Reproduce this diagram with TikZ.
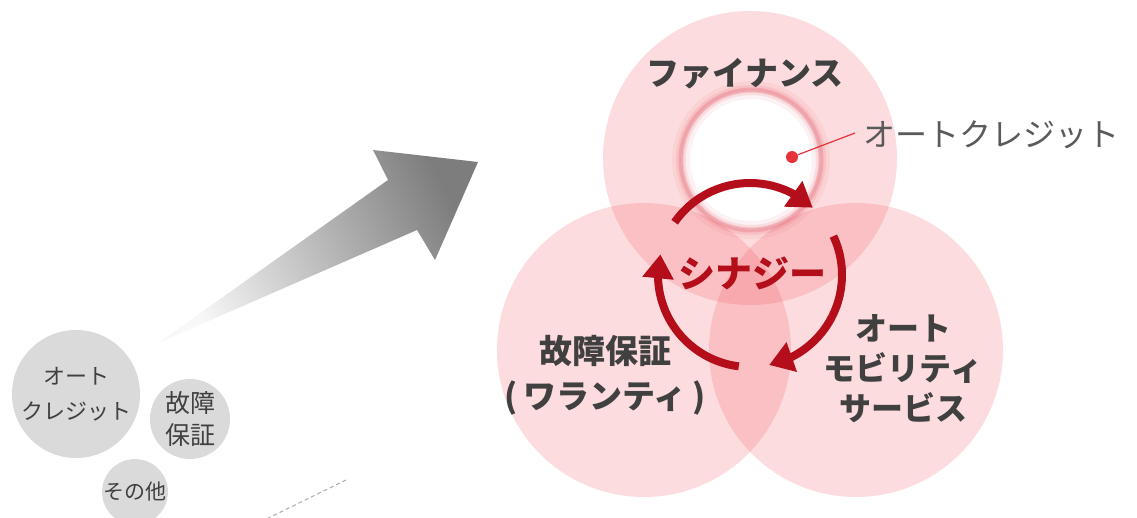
\documentclass[tikz,border=0pt]{standalone}
\usepackage{fontspec}
\newfontfamily\jp{Noto Sans CJK JP}
\usetikzlibrary{arrows.meta,bending}
\definecolor{pinkc}{RGB}{240,80,90}
\definecolor{greyc}{RGB}{218,218,218}
\definecolor{txtc}{RGB}{64,64,64}
\definecolor{lbltxt}{RGB}{90,90,90}
\definecolor{synred}{RGB}{180,14,26}
\definecolor{ringred}{RGB}{225,70,85}
\definecolor{dotred}{RGB}{230,50,60}
\definecolor{arrlight}{RGB}{248,248,248}
\definecolor{arrdark}{RGB}{125,125,125}
\begin{document}
\begin{tikzpicture}[x=1pt,y=1pt,
  venn/.style={circle, minimum size=294pt, inner sep=0pt, fill=pinkc, fill opacity=0.2},
  greyball/.style={circle, fill=greyc, inner sep=0pt, text=txtc, align=center},
  biglbl/.style={text=txtc, align=center, inner sep=0pt},
  synarrow/.style={draw=synred, line width=8pt, -{Triangle[length=24pt,width=30pt]}}
]
\useasboundingbox (0,0) rectangle (1137,-517);
\clip (0,0) rectangle (1137,-517);

% small grey circles
\node[greyball, minimum size=128pt, font=\jp\fontsize{22}{35}\selectfont] (gc1) at (76,-394) {オート\\クレジット};
\node[greyball, minimum size=80pt, font=\jp\fontsize{25}{32}\selectfont] (gc2) at (190,-419) {故障\\保証};
\node[greyball, minimum size=64pt, font=\jp\fontsize{21}{25}\selectfont] (gc3) at (135,-492) {その他};

% dashed line
\coordinate (d1) at (346,-480);
\coordinate (d2) at (250,-527);
\draw[color={rgb,255:red,170;green,170;blue,170}, line width=1pt, dash pattern=on 4pt off 3pt] (d1) -- (d2);

% gradient arrow
\shade[top color=arrlight, bottom color=arrdark, shading angle=117]
  (158,-343) -- (388,-180) -- (373,-150) -- (478,-162) -- (435,-260) -- (417,-230) -- cycle;

% venn circles
\node[venn] (fin) at (750,-158) {};
\node[venn] (war) at (644,-350) {};
\node[venn] (mob) at (856,-350) {};

% inner white circle with red glow ring
\coordinate (ic) at (751,-160);
\fill[white] (ic) circle (70);
\draw[ringred, opacity=0.07, line width=18pt] (ic) circle (70);
\draw[ringred, opacity=0.12, line width=10pt] (ic) circle (70);
\draw[ringred, opacity=0.22, line width=5pt] (ic) circle (70);
\draw[ringred, opacity=0.15, line width=2pt] (ic) circle (69.5);
\fill[white, opacity=0.6] (ic) circle (58);

% labels
\node[biglbl, font=\jp\bfseries\fontsize{33}{40}\selectfont] (finl) at (745,-74) {ファイナンス};
\node[biglbl, font=\jp\bfseries\fontsize{33}{45}\selectfont] (warl) at (605,-375) {故障保証\\(\,ワランティ\,)};
\node[biglbl, font=\jp\bfseries\fontsize{32}{40}\selectfont] (mobl) at (903,-369) {オート\\モビリティ\\サービス};

% auto credit pointer
\node[circle, fill=dotred, minimum size=12pt, inner sep=0pt] (dot) at (792,-157) {};
\node[anchor=west, text=lbltxt, inner sep=0pt, font=\jp\fontsize{32}{38}\selectfont] (ocl) at (863,-135) {オートクレジット};
\draw[dotred, line width=1.2pt] (dot) -- ([xshift=-8pt,yshift=2pt]ocl.west);

% synergy cycle
\coordinate (sc) at (750,-275);
\draw[synarrow] ([shift={(145:92)}]sc) arc[start angle=145, end angle=47, radius=92];
\draw[synarrow] ([shift={(25:92)}]sc) arc[start angle=25, end angle=-78, radius=92];
\draw[synarrow] ([shift={(-97:92)}]sc) arc[start angle=-97, end angle=-193, radius=92];

\node[text=synred, inner sep=0pt, font=\jp\bfseries\fontsize{37}{40}\selectfont] (syn) at (752,-273) {シナジー};
\end{tikzpicture}
\end{document}
